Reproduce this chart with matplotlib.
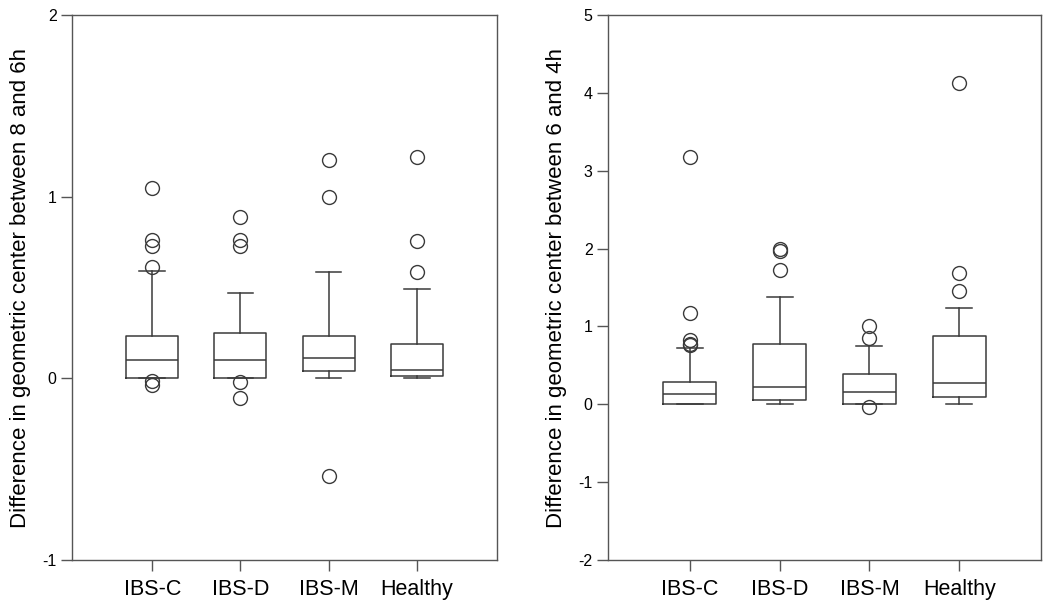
import matplotlib.pyplot as plt

plt.rcParams['font.family'] = ['Liberation Sans', 'DejaVu Sans']

groups = ['IBS-C', 'IBS-D', 'IBS-M', 'Healthy']

# left panel: difference between 8 and 6h
l_q1 = [0.0, 0.0, 0.04, 0.013]
l_med = [0.10, 0.10, 0.112, 0.046]
l_q3 = [0.234, 0.252, 0.234, 0.19]
l_whislo = [0.0, 0.0, 0.0, 0.0]
l_whishi = [0.59, 0.47, 0.587, 0.49]
l_fliers = [
    [1.05, 0.76, 0.73, 0.615, -0.015, -0.035],
    [0.888, 0.76, 0.73, -0.02, -0.107],
    [1.20, 0.998, -0.536],
    [1.22, 0.757, 0.586],
]

# right panel: difference between 6 and 4h
r_q1 = [0.0, 0.055, 0.0, 0.09]
r_med = [0.128, 0.218, 0.162, 0.27]
r_q3 = [0.29, 0.77, 0.385, 0.873]
r_whislo = [0.0, 0.0, 0.0, 0.0]
r_whishi = [0.723, 1.38, 0.75, 1.237]
r_fliers = [
    [3.18, 1.17, 0.82, 0.78, 0.76],
    [2.0, 1.97, 1.72],
    [1.0, 0.85, -0.03],
    [4.13, 1.68, 1.45],
]

LC = '#3a3a3a'


def draw(ax, q1, med, q3, wlo, whi, fl, ylim, yticks, ylabel):
    stats = []
    for i in range(len(groups)):
        stats.append(dict(q1=q1[i], med=med[i], q3=q3[i], whislo=wlo[i],
                          whishi=whi[i], fliers=fl[i], label=groups[i]))
    ax.bxp(stats, positions=[1, 2, 3, 4], widths=0.59, capwidths=0.29,
           boxprops=dict(color=LC, lw=1.1),
           medianprops=dict(color=LC, lw=1.1),
           whiskerprops=dict(color=LC, lw=1.1),
           capprops=dict(color=LC, lw=1.1),
           flierprops=dict(marker='o', markersize=10, markerfacecolor='none',
                           markeredgecolor=LC, markeredgewidth=1.0))
    ax.set_xlim(0.09, 4.91)
    ax.set_ylim(*ylim)
    ax.set_yticks(yticks)
    ax.set_yticklabels([str(t) for t in yticks], fontsize=11.5)
    ax.set_xticks([1, 2, 3, 4])
    ax.set_xticklabels(groups, fontsize=15.5)
    ax.tick_params(axis='y', length=8, width=1, color='#555555', pad=3)
    ax.tick_params(axis='x', length=8, width=1, color='#555555', pad=6)
    for s in ax.spines.values():
        s.set_color('#555555')
        s.set_linewidth(1.0)
    ax.set_ylabel(ylabel, fontsize=16, labelpad=8)


fig = plt.figure(figsize=(10.5, 6.09), dpi=100)
ax1 = fig.add_axes([72 / 1050, 1 - 560 / 609, 425 / 1050, 545 / 609])
ax2 = fig.add_axes([608 / 1050, 1 - 560 / 609, 433 / 1050, 545 / 609])

draw(ax1, l_q1, l_med, l_q3, l_whislo, l_whishi, l_fliers, (-1, 2), [-1, 0, 1, 2],
     'Difference in geometric center between 8 and 6h')
draw(ax2, r_q1, r_med, r_q3, r_whislo, r_whishi, r_fliers, (-2, 5),
     [-2, -1, 0, 1, 2, 3, 4, 5],
     'Difference in geometric center between 6 and 4h')

fig.savefig('out.png', dpi=100)
